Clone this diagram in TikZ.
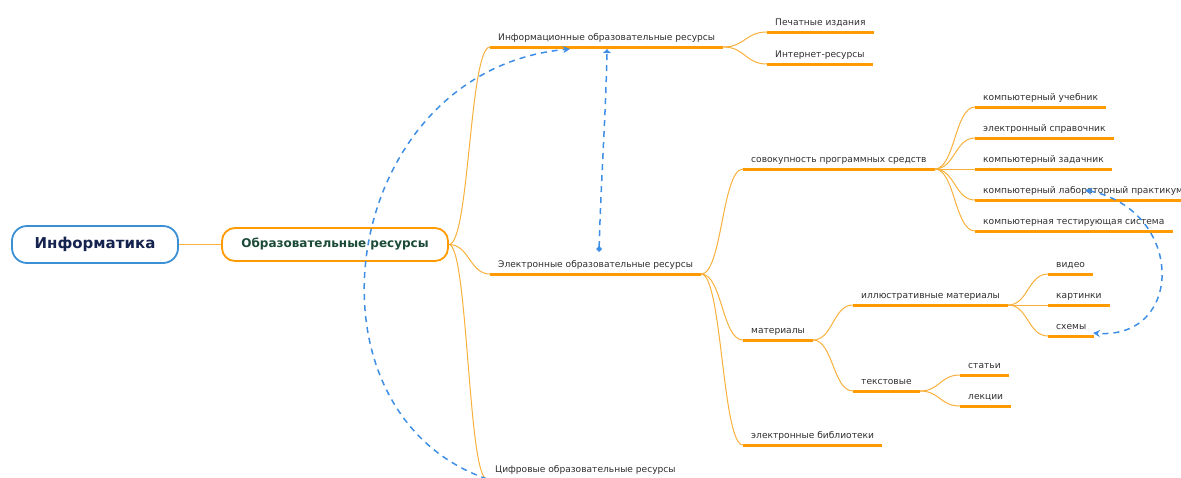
\documentclass[tikz,border=0pt]{standalone}
\usepackage{fontspec}
\setmainfont{DejaVu Sans}
\usetikzlibrary{arrows.meta,calc}
\definecolor{lineor}{HTML}{FF9A00}
\definecolor{thinor}{HTML}{F8B03C}
\definecolor{linkblue}{HTML}{3E8EE6}
\definecolor{rootblue}{HTML}{3B8FD4}
\definecolor{roottext}{HTML}{15244F}
\definecolor{maintext}{HTML}{1B4B38}
\definecolor{labeltext}{HTML}{2E2E2E}

\begin{document}
\begin{tikzpicture}[x=1pt,y=-1pt,
  rootbox/.style={draw=rootblue, line width=1.8pt, rounded corners=15pt,
    minimum width=166pt, minimum height=37pt, fill=white, text=roottext,
    font=\bfseries\fontsize{15}{18}\selectfont},
  mainbox/.style={draw=lineor, line width=1.8pt, rounded corners=13pt,
    minimum width=226pt, minimum height=33pt, fill=white, text=maintext,
    font=\bfseries\fontsize{12}{14}\selectfont},
  topic/.style={anchor=south west, inner xsep=8pt, inner ysep=6.5pt,
    text depth=0pt, text=labeltext, font=\fontsize{9.1}{11}\selectfont},
  under/.style={draw=lineor, line width=3pt},
  twig/.style={draw=thinor, line width=1pt},
  branch/.style={to path={let \p1=(\tikztostart), \p2=(\tikztotarget) in
    .. controls ({0.5*(\x1+\x2)},\y1) and ({0.5*(\x1+\x2)},\y2) .. (\tikztotarget)}},
  link/.style={draw=linkblue, line width=1.5pt, dash pattern=on 6pt off 5pt}
]
\useasboundingbox (0,0) rectangle (1181,477);

% central topics
\node[rootbox] (root) at (95,244.5) {Информатика};
\node[mainbox] (main) at (335,244.5) {Образовательные ресурсы};

% first level
\node[topic] (info) at (490,47) {Информационные образовательные ресурсы};
\node[topic] (elec) at (490,274) {Электронные образовательные ресурсы};
\node[topic] (cifr) at (487,479) {Цифровые образовательные ресурсы};

% second level
\node[topic] (pech) at (767,32) {Печатные издания};
\node[topic] (inet) at (767,64) {Интернет-ресурсы};
\node[topic] (sov) at (743,169) {совокупность программных средств};
\node[topic] (mat) at (743,340) {материалы};
\node[topic] (lib) at (743,445) {электронные библиотеки};

% third level
\node[topic] (uch) at (975,107) {компьютерный учебник};
\node[topic] (spr) at (975,138) {электронный справочник};
\node[topic] (zad) at (975,169) {компьютерный задачник};
\node[topic] (lab) at (975,200) {компьютерный лабораторный практикум};
\node[topic] (test) at (975,231) {компьютерная тестирующая система};
\node[topic] (ill) at (853,305) {иллюстративные материалы};
\node[topic] (txt) at (853,391) {текстовые};

% fourth level
\node[topic] (vid) at (1048,274) {видео};
\node[topic] (kart) at (1048,305) {картинки};
\node[topic] (sch) at (1048,336) {схемы};
\node[topic] (stat) at (960,375) {статьи};
\node[topic] (lek) at (960,406) {лекции};

% underlines
\foreach \n in {info,elec,cifr,pech,inet,sov,mat,lib,uch,spr,zad,lab,test,ill,txt,vid,kart,sch,stat,lek}
  \draw[under] (\n.south west) -- (\n.south east);

% tree connectors
\draw[draw=thinor, line width=1.5pt] (root.east) -- (main.west);
\draw[twig] (main.east) to[branch] (info.south west);
\draw[twig] (main.east) to[branch] (elec.south west);
\draw[twig] (main.east) to[branch] (cifr.south west);
\draw[twig] (info.south east) to[branch] (pech.south west);
\draw[twig] (info.south east) to[branch] (inet.south west);
\draw[twig] (elec.south east) to[branch] (sov.south west);
\draw[twig] (elec.south east) to[branch] (mat.south west);
\draw[twig] (elec.south east) to[branch] (lib.south west);
\foreach \c in {uch,spr,zad,lab,test}
  \draw[twig] (sov.south east) to[branch] (\c.south west);
\draw[twig] (mat.south east) to[branch] (ill.south west);
\draw[twig] (mat.south east) to[branch] (txt.south west);
\foreach \c in {vid,kart,sch}
  \draw[twig] (ill.south east) to[branch] (\c.south west);
\draw[twig] (txt.south east) to[branch] (stat.south west);
\draw[twig] (txt.south east) to[branch] (lek.south west);

% cross links
\coordinate (infoIn) at (570,49);
\coordinate (elecTop) at (599,252);
\coordinate (infoTop) at (607,49);
\coordinate (labIn) at (1085,190);
\coordinate (schIn) at (1093,333);

\draw[link, -{Stealth[length=7pt,width=7pt]}]
  (cifr.south west) .. controls (290,410) and (340,70) .. (infoIn);
\draw[link, {Diamond[length=6pt,width=6pt]}-{Latex[length=4pt,width=9pt]}]
  (elecTop) .. controls (601,180) and (606,110) .. (infoTop);
\draw[link, {Stealth[length=7pt,width=7pt]}-{Stealth[length=7pt,width=7pt]}]
  (labIn) .. controls (1185,210) and (1185,340) .. (schIn);
\end{tikzpicture}
\end{document}
